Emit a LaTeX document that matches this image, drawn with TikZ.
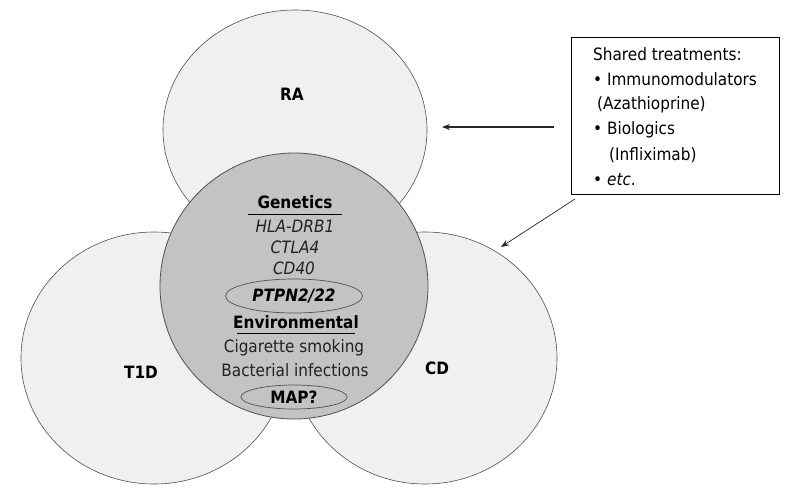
\documentclass[tikz,border=0pt]{standalone}
\usepackage{fontspec}
\setmainfont{DejaVu Sans Condensed}
\usetikzlibrary{shapes.geometric,arrows.meta}
\definecolor{outerfill}{HTML}{F0F0F0}
\definecolor{innerfill}{HTML}{C3C3C3}
\definecolor{edgec}{HTML}{505050}
\definecolor{txt}{HTML}{222222}
\newcommand{\fsz}{\fontsize{17}{19}\selectfont}
\begin{document}
\begin{tikzpicture}[x=1pt,y=-1pt,
  blob/.style={ellipse, draw=edgec, line width=0.6pt, fill=outerfill, inner sep=0pt},
  core/.style={ellipse, draw=edgec, line width=0.8pt, fill=innerfill, inner sep=0pt},
  pill/.style={ellipse, draw=edgec, line width=0.7pt, fill=innerfill, inner sep=0pt, text=black},
  tag/.style={font=\bfseries\fsz, inner sep=0pt},
  body/.style={font=\fsz, text=txt, inner sep=0pt},
  boxtxt/.style={font=\fsz, text=black, inner sep=0pt, anchor=west},
  uline/.style={draw=black, line width=0.8pt},
  arr/.style={-{Stealth[length=8pt,width=6pt]}, line width=0.9pt, draw=black!85}]
\useasboundingbox[fill=white] (0,0) rectangle (789,491);

% outer circles
\node[blob, minimum width=264pt, minimum height=240pt] (ra) at (295,130) {};
\node[blob, minimum width=266pt, minimum height=252pt] (t1d) at (154,358) {};
\node[blob, minimum width=264pt, minimum height=252pt] (cd) at (425,358) {};
% shared core
\node[core, minimum width=268pt, minimum height=266pt] (core) at (294,286) {};

% disease labels
\node[tag] (ralab) at (292,94) {RA};
\node[tag] (t1dlab) at (141,372) {T1D};
\node[tag] (cdlab) at (437,368) {CD};

% core content
\node[body, font=\bfseries\fsz, text=black] (gen) at (295,202) {Genetics};
\draw[uline] (248,214) -- (342,214);
\node[body, font=\itshape\fsz] (hla) at (295,226) {HLA-DRB1};
\node[body, font=\itshape\fsz] (ctla) at (295,247) {CTLA4};
\node[body, font=\itshape\fsz] (cd40) at (294,268) {CD40};
\node[pill, minimum width=137pt, minimum height=34pt, font=\bfseries\itshape\fsz] (ptpn) at (294,296) {PTPN2/22};
\node[body, font=\bfseries\fsz, text=black] (env) at (296,322) {Environmental};
\draw[uline] (237,333) -- (355,333);
\node[body] (cig) at (294,348) {Cigarette smoking};
\node[body] (bac) at (295,370) {Bacterial infections};
\node[pill, minimum width=106pt, minimum height=24pt, font=\bfseries\fsz] (map) at (294,397) {MAP?};

% treatments box
\node[draw=black, line width=0.8pt, fill=white, minimum width=208pt, minimum height=157pt, inner sep=0pt] (box) at (675,115.5) {};
\node[boxtxt] (t0) at (593,54) {Shared treatments:};
\node[boxtxt] (t1) at (593,79) {• Immunomodulators};
\node[boxtxt] (t2) at (597,105) {(Azathioprine)};
\node[boxtxt] (t3) at (593,130) {• Biologics};
\node[boxtxt] (t4) at (609,155) {(Infliximab)};
\node[boxtxt] (t5) at (593,180) {• \textit{etc}.};

% arrows
\coordinate (a1s) at (554,127);
\coordinate (a1e) at (442,127);
\coordinate (a2s) at (575,199);
\coordinate (a2e) at (501,247);
\draw[arr, line width=1.1pt] (a1s) -- (a1e);
\draw[arr, line width=0.7pt] (a2s) -- (a2e);
\end{tikzpicture}
\end{document}
